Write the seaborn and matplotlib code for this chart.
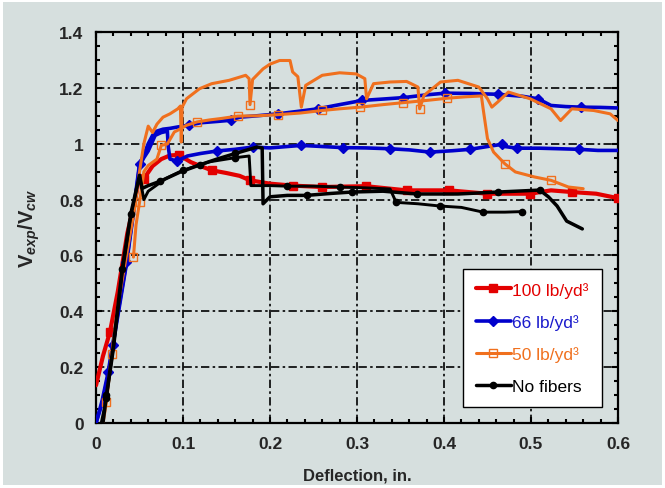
import matplotlib
matplotlib.use("Agg")
import matplotlib.pyplot as plt
import seaborn as sns
import pandas as pd
import numpy as np

# ---------------- data ----------------
red_x = [0.0, 0.008, 0.016, 0.025, 0.036, 0.045, 0.05, 0.055, 0.065, 0.075, 0.085, 0.095, 0.109, 0.12, 0.133,
         0.15, 0.165, 0.177, 0.2, 0.226, 0.26, 0.31, 0.357, 0.406, 0.45, 0.499, 0.523, 0.547, 0.575, 0.6]
red_y = [0.135, 0.24, 0.326, 0.47, 0.68, 0.8, 0.887, 0.875, 0.92, 0.945, 0.958, 0.96, 0.934, 0.92, 0.905,
         0.895, 0.885, 0.869, 0.857, 0.85, 0.845, 0.848, 0.833, 0.833, 0.821, 0.821, 0.833, 0.827, 0.821, 0.805]

blue1_x = [0.0, 0.007, 0.014, 0.019, 0.027, 0.035, 0.043, 0.05, 0.055, 0.06, 0.065, 0.07, 0.077, 0.085, 0.094,
           0.107, 0.12, 0.14, 0.155, 0.165, 0.185, 0.209, 0.23, 0.255, 0.28, 0.306, 0.33, 0.353, 0.38, 0.401,
           0.43, 0.462, 0.49, 0.508, 0.523, 0.54, 0.557, 0.58, 0.6]
blue1_y = [0.0, 0.08, 0.183, 0.278, 0.43, 0.576, 0.76, 0.928, 0.96, 1.0, 1.03, 1.045, 1.052, 1.055, 1.06,
           1.066, 1.075, 1.08, 1.084, 1.095, 1.1, 1.107, 1.115, 1.125, 1.14, 1.155, 1.16, 1.165, 1.175, 1.181,
           1.18, 1.177, 1.17, 1.161, 1.137, 1.133, 1.131, 1.13, 1.128]

blue2_x = [0.0, 0.007, 0.014, 0.019, 0.027, 0.035, 0.043, 0.05, 0.055, 0.06, 0.068, 0.075, 0.082, 0.083, 0.085,
           0.093, 0.105, 0.12, 0.139, 0.16, 0.18, 0.2, 0.236, 0.26, 0.284, 0.31, 0.338, 0.36, 0.384, 0.41,
           0.43, 0.45, 0.467, 0.47, 0.484, 0.51, 0.533, 0.555, 0.577, 0.6]
blue2_y = [0.0, 0.07, 0.17, 0.27, 0.42, 0.57, 0.75, 0.92, 0.95, 0.974, 1.03, 1.04, 1.045, 0.99, 0.945,
           0.938, 0.956, 0.965, 0.974, 0.98, 0.988, 0.985, 0.994, 0.99, 0.986, 0.985, 0.982, 0.978, 0.97, 0.975,
           0.98, 0.99, 0.998, 0.99, 0.984, 0.984, 0.982, 0.98, 0.976, 0.976]

orange1_x = [0.008, 0.012, 0.018, 0.025, 0.035, 0.045, 0.05, 0.055, 0.06, 0.065, 0.07, 0.077, 0.085, 0.094,
             0.097, 0.098, 0.099, 0.104, 0.119, 0.133, 0.153, 0.172, 0.176, 0.177, 0.18, 0.192, 0.2, 0.211,
             0.223, 0.226, 0.232, 0.236, 0.241, 0.26, 0.28, 0.299, 0.309, 0.311, 0.319, 0.338, 0.357, 0.37,
             0.372, 0.377, 0.396, 0.416, 0.44, 0.45, 0.455, 0.462, 0.474, 0.499, 0.523, 0.534, 0.547, 0.572,
             0.591, 0.6]
orange1_y = [0.0, 0.075, 0.248, 0.42, 0.6, 0.78, 0.9, 1.0, 1.063, 1.04, 1.07, 1.095, 1.107, 1.125,
             1.135, 1.006, 1.131, 1.161, 1.197, 1.215, 1.227, 1.245, 1.233, 1.14, 1.23, 1.268, 1.285, 1.298,
             1.298, 1.257, 1.24, 1.131, 1.209, 1.245, 1.254, 1.25, 1.233, 1.161, 1.215, 1.221, 1.223, 1.203,
             1.125, 1.173, 1.221, 1.227, 1.203, 1.161, 1.131, 1.15, 1.185, 1.161, 1.125, 1.083, 1.125, 1.119,
             1.107, 1.083]

orange2_x = [0.043, 0.046, 0.05, 0.055, 0.06, 0.07, 0.075, 0.082, 0.09, 0.097, 0.104, 0.116, 0.13, 0.143,
             0.163, 0.185, 0.209, 0.235, 0.26, 0.28, 0.304, 0.33, 0.353, 0.38, 0.404, 0.425, 0.443, 0.445,
             0.45, 0.457, 0.47, 0.482, 0.504, 0.523, 0.543, 0.56]
orange2_y = [0.594, 0.71, 0.79, 0.9, 0.922, 0.945, 0.994, 0.999, 1.042, 1.053, 1.066, 1.078, 1.085, 1.09,
             1.099, 1.1, 1.104, 1.11, 1.119, 1.125, 1.131, 1.14, 1.147, 1.155, 1.163, 1.168, 1.171, 1.125,
             1.018, 0.97, 0.928, 0.899, 0.881, 0.869, 0.845, 0.839]

black1_x = [0.008, 0.012, 0.02, 0.03, 0.04, 0.05, 0.053, 0.06, 0.074, 0.097, 0.12, 0.139, 0.16, 0.185,
            0.191, 0.192, 0.2, 0.22, 0.242, 0.27, 0.294, 0.33, 0.369, 0.416, 0.462, 0.51, 0.52, 0.53,
            0.541, 0.559]
black1_y = [0.0, 0.1, 0.28, 0.55, 0.75, 0.887, 0.84, 0.85, 0.866, 0.899, 0.925, 0.945, 0.965, 0.988,
            0.985, 0.785, 0.81, 0.815, 0.815, 0.822, 0.827, 0.83, 0.82, 0.82, 0.827, 0.834, 0.81, 0.777,
            0.723, 0.695]

black2_x = [0.006, 0.012, 0.02, 0.03, 0.04, 0.05, 0.055, 0.06, 0.08, 0.1, 0.13, 0.16, 0.176, 0.178, 0.2,
            0.22, 0.25, 0.28, 0.31, 0.338, 0.345, 0.37, 0.395, 0.42, 0.445, 0.47, 0.49]
black2_y = [0.0, 0.09, 0.26, 0.53, 0.74, 0.885, 0.80, 0.83, 0.875, 0.905, 0.935, 0.95, 0.956, 0.85, 0.85,
            0.848, 0.848, 0.845, 0.842, 0.838, 0.79, 0.785, 0.777, 0.772, 0.755, 0.755, 0.757]

series_labels = ["100 lb/yd³", "66 lb/yd³", "50 lb/yd³", "No fibers"]
x_ticks = [0, 0.1, 0.2, 0.3, 0.4, 0.5, 0.6]
x_tick_labels = ["0", "0.1", "0.2", "0.3", "0.4", "0.5", "0.6"]
y_ticks = [0, 0.2, 0.4, 0.6, 0.8, 1.0, 1.2, 1.4]
y_tick_labels = ["0", "0.2", "0.4", "0.6", "0.8", "1", "1.2", "1.4"]

# ---------------- style ----------------
BG = "#d6dfde"
RED = "#e30000"
BLUE = "#0000cc"
ORANGE = "#f0701e"
BLACK = "#000000"

sns.set_style("white")
plt.rcParams["font.family"] = ["Liberation Sans", "DejaVu Sans"]
plt.rcParams["mathtext.fontset"] = "custom"
plt.rcParams["mathtext.rm"] = "Liberation Sans:bold"
plt.rcParams["mathtext.it"] = "Liberation Sans:bold:italic"
plt.rcParams["mathtext.bf"] = "Liberation Sans:bold"

fig = plt.figure(figsize=(6.65, 4.89), dpi=100)
fig.patch.set_facecolor(BG)
fig.patch.set_edgecolor("white")
fig.patch.set_linewidth(3)
ax = fig.add_axes([0.1444, 0.1329, 0.7849, 0.7996])
ax.set_facecolor(BG)


def curve(x, y, color, marker, mfc, ms, lw, mev, label=None, z=2):
    df = pd.DataFrame({"x": x, "y": y})
    sns.lineplot(data=df, x="x", y="y", ax=ax, estimator=None, sort=False, color=color,
                 linewidth=lw, marker=marker, markersize=ms, markerfacecolor=mfc,
                 markeredgecolor=color, markeredgewidth=1.0, markevery=mev,
                 label=label, zorder=z, legend=False)


curve(red_x, red_y, RED, "s", RED, 5.5, 3.0,
      [2, 7, 11, 14, 17, 19, 20, 21, 22, 23, 24, 25, 27, 29], series_labels[0], 3)
curve(blue1_x, blue1_y, BLUE, "D", BLUE, 5.5, 2.6,
      [2, 3, 5, 7, 15, 18, 21, 23, 25, 27, 29, 31, 33, 36], series_labels[1], 3)
curve(blue2_x, blue2_y, BLUE, "D", BLUE, 5.5, 2.6,
      [15, 18, 20, 22, 24, 26, 28, 30, 32, 34, 37], None, 3)
curve(orange1_x, orange1_y, ORANGE, "s", "none", 6, 2.2,
      [1, 2, 23, 42], series_labels[2], 4)
curve(orange2_x, orange2_y, ORANGE, "s", "none", 6, 2.2,
      [0, 2, 6, 11, 14, 16, 18, 20, 22, 24, 30, 33], None, 4)
curve(black1_x, black1_y, BLACK, "o", BLACK, 4.5, 2.5,
      [1, 3, 4, 8, 10, 12, 18, 20, 22, 24, 25], series_labels[3], 5)
curve(black2_x, black2_y, BLACK, "o", BLACK, 4.5, 2.1,
      [1, 9, 11, 15, 17, 20, 22, 24, 26], None, 5)

# ---------------- axes ----------------
ax.set_xlim(0, 0.6)
ax.set_ylim(0, 1.4)
ax.set_xticks(x_ticks)
ax.set_xticklabels(x_tick_labels)
ax.set_yticks(y_ticks)
ax.set_yticklabels(y_tick_labels)
ax.set_xticks(np.arange(0, 0.6001, 0.02), minor=True)
ax.set_yticks(np.arange(0, 1.4001, 0.05), minor=True)
ax.tick_params(which="both", direction="in", top=True, right=True, bottom=True, left=True,
               width=1.5, color="black")
ax.tick_params(which="major", length=4, labelsize=12.5, pad=9)
ax.tick_params(which="minor", length=3)
for lab in ax.get_xticklabels() + ax.get_yticklabels():
    lab.set_fontweight("bold")
for s in ax.spines.values():
    s.set_visible(True)
    s.set_linewidth(1.6)
    s.set_color("black")
ax.grid(True, which="major", color="black", linewidth=1.2, linestyle=(0, (5, 2, 1.5, 2)))
ax.set_axisbelow(True)

ax.set_xlabel("Deflection, in.", fontsize=12, fontweight="bold", labelpad=12)
ax.set_ylabel(r"$\mathrm{V}_{exp}\mathrm{/V}_{cw}$", fontsize=14.5, labelpad=12)

leg = ax.legend(loc="lower right", bbox_to_anchor=(0.969, 0.041), fontsize=12.5,
                frameon=True, fancybox=False, edgecolor="black", facecolor="white",
                framealpha=1, handlelength=2.0, handletextpad=0.1, labelspacing=0.95,
                borderpad=0.75, borderaxespad=0)
leg.get_frame().set_linewidth(1.0)
for t, c in zip(leg.get_texts(), [RED, "#1a1acc", ORANGE, BLACK]):
    t.set_color(c)

fig.savefig("out.png", dpi=100, facecolor=fig.get_facecolor(), edgecolor="white")
